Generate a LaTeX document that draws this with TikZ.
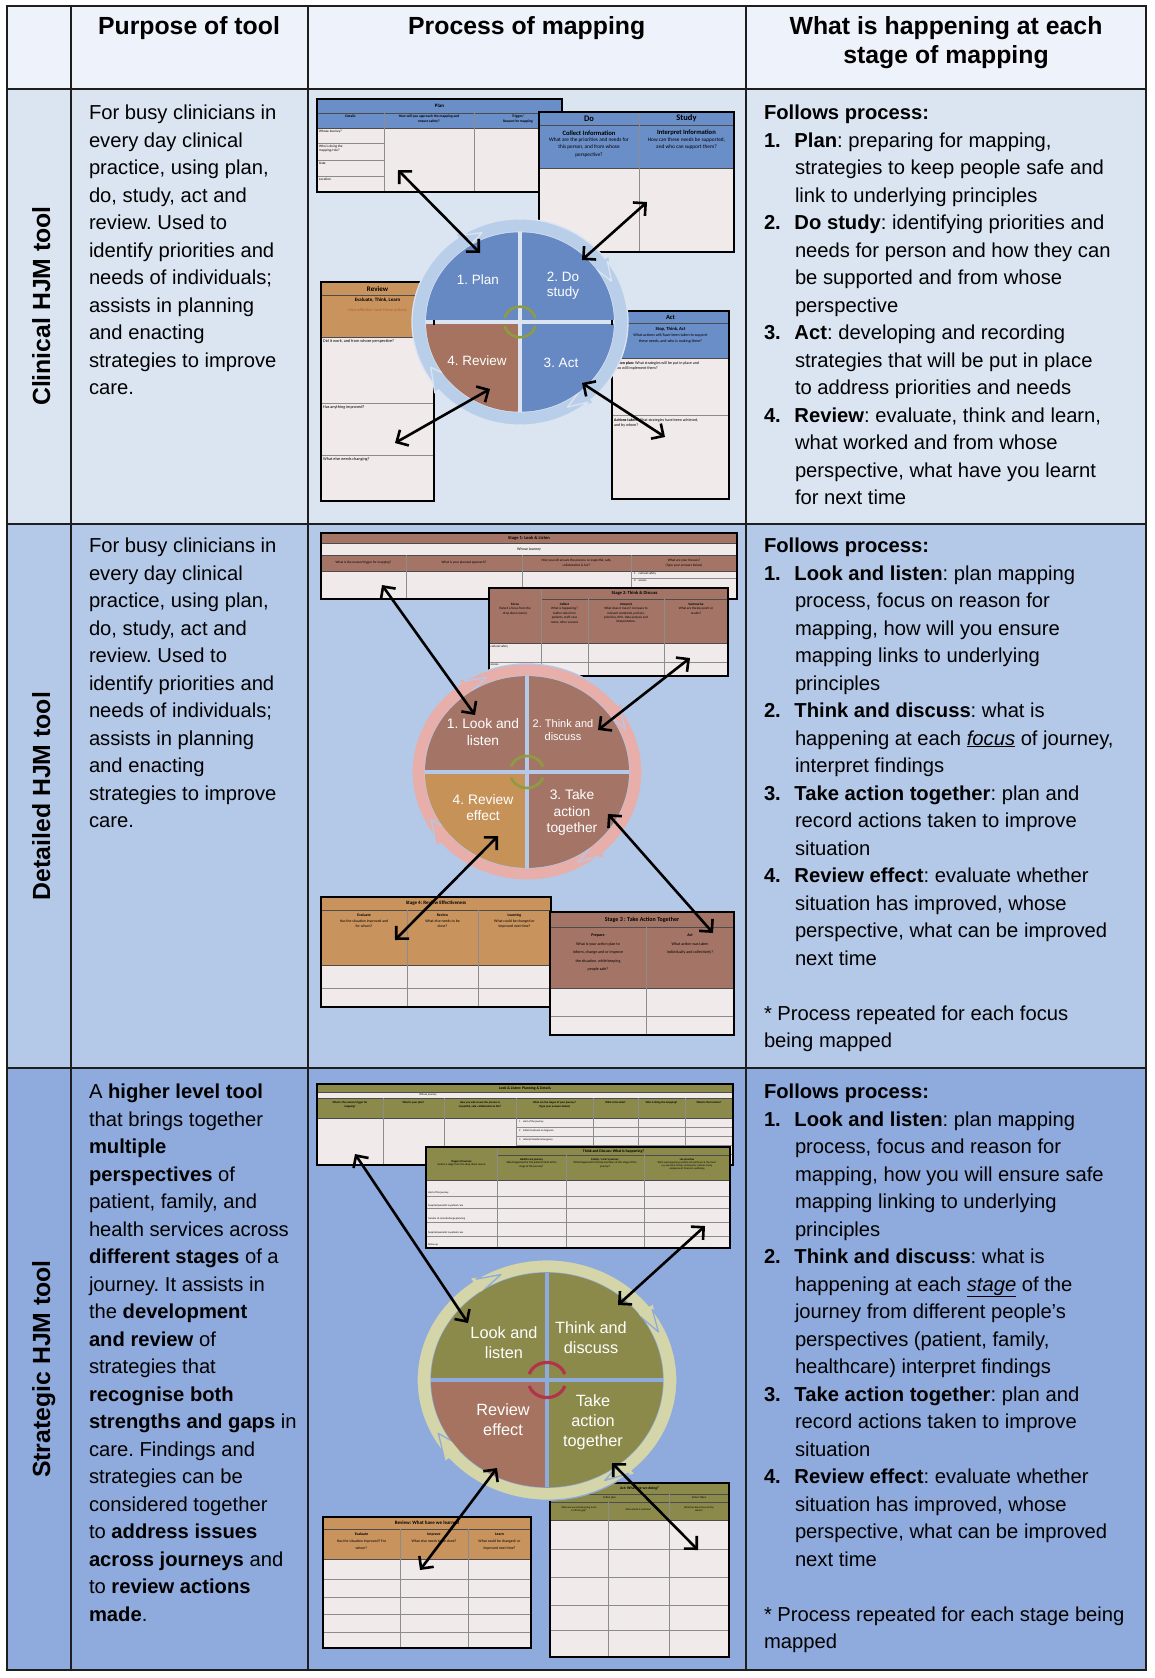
\documentclass[tikz,border=0pt]{standalone}
\usepackage{fontspec}
\setmainfont{Liberation Sans}
\newfontfamily\carl{Carlito}
\usetikzlibrary{arrows.meta}
\frenchspacing
\definecolor{hdrbg}{HTML}{EEF2FA}
\definecolor{rowA}{HTML}{DBE5F2}
\definecolor{rowB}{HTML}{B4C8E8}
\definecolor{rowC}{HTML}{8FAADC}
\definecolor{tblue}{HTML}{6A8EC7}
\definecolor{pblue}{HTML}{6689C3}
\definecolor{tlight}{HTML}{F0EAEA}
\definecolor{torange}{HTML}{C9935E}
\definecolor{tbrown}{HTML}{A47566}
\definecolor{tolive}{HTML}{8B8A4A}
\definecolor{ptan}{HTML}{C69258}
\definecolor{pbrown}{HTML}{A5735F}
\definecolor{ringA}{HTML}{B9CEE8}
\definecolor{ringB}{HTML}{E8AEA9}
\definecolor{ringC}{HTML}{D4D5A9}
\definecolor{arcA}{HTML}{8C9C3E}
\definecolor{arcC}{HTML}{B3344A}
\definecolor{gridc}{HTML}{8C8C8C}
\definecolor{linec}{HTML}{1E1E1E}
\definecolor{otext}{HTML}{B4612F}
\newcommand{\fz}[2]{\carl\fontsize{#1}{#2}\selectfont}
\newcounter{tn}
\newcommand{\mt}[3][]{\stepcounter{tn}\node[mtx,#1] (m\arabic{tn}) at (#2) {#3};}
\newcommand{\nm}[1]{\makebox[30.5pt][l]{\textbf{#1}}}
\newcommand{\ind}{\hspace*{31pt}}
\newcommand{\ringseg}[4]{%
  \pgfmathsetmacro\rsmid{(#3+#4)/2}%
  \pgfmathsetmacro\rsob{#4+5}%
  \pgfmathsetmacro\rsib{#3-5}%
  \pgfmathsetmacro\rsb{#2+13}%
  \pgfmathsetmacro\rsn{#1-11}%
  \path[ringsty] (#1:#4) arc[start angle=#1, end angle=\rsb, radius=#4] -- (\rsb:\rsob) -- (#2:\rsmid) -- (\rsb:\rsib) -- (\rsb:#3) arc[start angle=\rsb, end angle=#1, radius=#3] -- (\rsn:\rsmid) -- cycle;}
\newcommand{\wheel}[4]{%
  \tikzset{ringsty/.style={fill=#3, draw=#4, line width=1.3pt, line join=round}}%
  \ringseg{219}{112}{#1}{#2}%
  \ringseg{123}{25}{#1}{#2}%
  \ringseg{36}{-62}{#1}{#2}%
  \ringseg{-51}{-152}{#1}{#2}}
\newcommand{\pie}[5]{% radius, TR, TL, BL, BR
  \fill[#2] (0,0) -- (0:#1) arc[start angle=0,end angle=90,radius=#1] -- cycle;
  \fill[#3] (0,0) -- (90:#1) arc[start angle=90,end angle=180,radius=#1] -- cycle;
  \fill[#4] (0,0) -- (180:#1) arc[start angle=180,end angle=270,radius=#1] -- cycle;
  \fill[#5] (0,0) -- (270:#1) arc[start angle=270,end angle=360,radius=#1] -- cycle;}
\begin{document}
\begin{tikzpicture}[x=1pt,y=-1pt,
  body/.style={font=\fontsize{20.2}{27.5}\selectfont, align=left, inner sep=0pt, outer sep=0pt, anchor=north west},
  hdr/.style={font=\bfseries\fontsize{24.8}{29}\selectfont, align=center, inner sep=0pt, anchor=north},
  side/.style={font=\bfseries\fontsize{24.8}{27.5}\selectfont, rotate=90, anchor=base, inner sep=0pt},
  mtx/.style={font=\fz{4}{4.8}, align=center, inner sep=0pt},
  wl/.style={text=white, align=center, inner sep=0pt},
  tline/.style={draw=linec, line width=2pt},
  tborder/.style={draw=black, line width=2.2pt},
  dline/.style={draw=black!70, line width=0.7pt},
  gline/.style={draw=gridc, line width=0.6pt},
  dbl/.style={{Straight Barb[length=9pt,width=18pt]}-{Straight Barb[length=9pt,width=18pt]}, line width=2.6pt, black},
]
\useasboundingbox (0,0) rectangle (1155,1678);
\fill[white] (0,0) rectangle (1155,1678);
\fill[hdrbg] (7,6) rectangle (1146,89);
\fill[rowA] (7,89) rectangle (1146,524);
\fill[rowB] (7,524) rectangle (1146,1068);
\fill[rowC] (7,1068) rectangle (1146,1670);

% ================= ROW 1 tables
% Plan
\fill[tblue] (317,99) rectangle (562,128);
\fill[tlight] (317,128) rectangle (562,192);
\draw[dline] (317,113) -- (562,113) (317,128) -- (562,128);
\draw[gline] (384,113) -- (384,192) (474,113) -- (474,192);
\draw[gline] (317,143) -- (384,143) (317,160) -- (384,160) (317,176) -- (384,176);
\draw[tborder] (317,99) rectangle (562,192);
\mt[font=\fz{5}{6}\bfseries]{439.5,106}{Plan}
\mt[anchor=north, font=\fz{3.6}{4.3}\bfseries]{350.5,115}{Details}
\mt[anchor=north, font=\fz{3.6}{4.3}\bfseries]{429,115}{How will you approach the mapping and\\ensure safety?}
\mt[anchor=north, font=\fz{3.6}{4.3}\bfseries]{518,115}{Trigger/\\Reason for mapping}
\mt[anchor=north west, font=\fz{3.4}{4.1}, align=left]{319,130}{Whose Journey?}
\mt[anchor=north west, font=\fz{3.4}{4.1}, align=left]{319,145}{Who is doing the\\mapping/role?}
\mt[anchor=north west, font=\fz{3.4}{4.1}, align=left]{319,162}{Date}
\mt[anchor=north west, font=\fz{3.4}{4.1}, align=left]{319,178}{Location}
% Do / Study
\fill[tblue] (539,112) rectangle (734,168);
\fill[tlight] (539,168) rectangle (734,252);
\draw[dline] (539,125) -- (734,125) (539,168) -- (734,168);
\draw[gline] (639,112) -- (639,252);
\draw[tborder] (539,112) rectangle (734,252);
\mt[font=\fz{8.5}{9}\bfseries]{589,118.5}{Do}
\mt[font=\fz{8.5}{9}\bfseries]{686.5,118.5}{Study}
\mt[font=\fz{6.6}{7}\bfseries]{589,133}{Collect Information}
\mt[anchor=north, font=\fz{5.3}{7.6}]{589,137.5}{What are the priorities and needs for\\this person, and from whose\\perspective?}
\mt[font=\fz{6.6}{7}\bfseries]{686.5,133}{Interpret Information}
\mt[anchor=north, font=\fz{5.3}{7.6}]{686.5,137.5}{How can these needs be supported,\\and who can support them?}
% Review
\fill[torange] (321,282) rectangle (434,337);
\fill[tlight] (321,337) rectangle (434,501);
\draw[dline] (321,295) -- (434,295) (321,337) -- (434,337);
\draw[gline] (321,403) -- (434,403) (321,455) -- (434,455);
\draw[tborder] (321,282) rectangle (434,501);
\mt[font=\fz{7}{8}\bfseries]{377.5,289}{Review}
\mt[font=\fz{5}{6}\bfseries]{377.5,300.5}{Evaluate, Think, Learn}
\mt[font=\fz{4.4}{5}, text=otext]{377.5,310}{How affective have these actions}
\mt[anchor=north west, font=\fz{4.2}{5}, align=left]{323,339}{Did it work, and from whose perspective?}
\mt[anchor=north west, font=\fz{4.2}{5}, align=left]{323,405}{Has anything improved?}
\mt[anchor=north west, font=\fz{4.2}{5}, align=left]{323,457}{What else needs changing?}
% Act
\fill[tblue] (612,311) rectangle (729,358);
\fill[tlight] (612,358) rectangle (729,499);
\draw[dline] (612,323) -- (729,323) (612,358) -- (729,358);
\draw[gline] (612,415) -- (729,415);
\draw[tborder] (612,311) rectangle (729,499);
\mt[font=\fz{6.5}{7}\bfseries]{670.5,317}{Act}
\mt[font=\fz{4.6}{5}\bfseries]{670.5,329}{Stop, Think, Act}
\mt[anchor=north, font=\fz{4}{5.2}]{670.5,334}{What actions will/have been taken to support\\these needs, and who is making them?}
\mt[anchor=north west, font=\fz{4}{5.2}, align=left]{614,361}{\textbf{Action plan:} What strategies will be put in place and\\who will implement them?}
\mt[anchor=north west, font=\fz{4}{5.2}, align=left]{614,418}{\textbf{Actions taken:} What strategies have been achieved,\\and by whom?}

% wheel 1
\begin{scope}[shift={(520,322)}, yscale=-0.955]
  \wheel{94}{108}{ringA}{rowA}
  \pie{94}{pblue}{pblue}{pbrown}{pblue}
  \draw[rowA, line width=4pt] (-94,0) -- (94,0) (0,-94) -- (0,94);
  \draw[arcA, line width=2.6pt] (165:16) arc[start angle=165,end angle=15,radius=16];
  \draw[arcA, line width=2.6pt] (-15:16) arc[start angle=-15,end angle=-165,radius=16];
\end{scope}
\draw[black, line width=2pt] (434,320) -- (434,325) (612,320) -- (612,325);
\node[wl, font=\fontsize{13.5}{15.5}\selectfont] (w1a) at (478,280) {1. Plan};
\node[wl, font=\fontsize{13.5}{15.5}\selectfont] (w1b) at (563,285.5) {2. Do\\study};
\node[wl, font=\fontsize{13.5}{15.5}\selectfont] (w1c) at (477,361) {4. Review};
\node[wl, font=\fontsize{13.5}{15.5}\selectfont] (w1d) at (561,363) {3. Act};
\coordinate (a1s) at (398,170); \coordinate (a1e) at (480,253);
\coordinate (a2s) at (647,202); \coordinate (a2e) at (582,260);
\coordinate (a3s) at (490,389); \coordinate (a3e) at (395,443);
\coordinate (a4s) at (582,383); \coordinate (a4e) at (665,437);
\draw[dbl] (a1s) -- (a1e);
\draw[dbl] (a2s) -- (a2e);
\draw[dbl] (a3s) -- (a3e);
\draw[dbl] (a4s) -- (a4e);

% ================= ROW 2 tables
% Stage 1
\fill[tbrown] (321,533) rectangle (737,543);
\fill[tlight] (321,543) rectangle (737,555);
\fill[tbrown] (321,555) rectangle (737,571);
\fill[tlight] (321,571) rectangle (737,599);
\draw[dline] (321,543) -- (737,543) (321,555) -- (737,555) (321,571) -- (737,571);
\draw[gline] (406,555) -- (406,599) (522,555) -- (522,599) (631,555) -- (631,599);
\draw[gline] (631,578) -- (737,578);
\draw[tborder] (321,533) rectangle (737,599);
\mt[font=\fz{4.6}{5}\bfseries]{529,538}{Stage 1: Look \& Listen}
\mt[font=\fz{3.8}{4.4}]{529,549}{Whose Journey}
\mt[font=\fz{3.4}{4.6}]{363.5,563}{What is the reason/trigger for mapping?}
\mt[font=\fz{3.4}{4.6}]{464,563}{What is your planned approach?}
\mt[font=\fz{3.4}{4.6}]{576.5,563}{How you will ensure the process is respectful, safe,\\collaborative \& fair?}
\mt[font=\fz{3.4}{4.6}]{684,563}{What are your focuses?\\(Type your answers below)}
\mt[anchor=north west, font=\fz{3}{3.6}, align=left]{634,572.5}{1\quad cultural safety}
\mt[anchor=north west, font=\fz{3}{3.6}, align=left]{634,579}{2\quad access}
% Stage 2
\fill[tbrown] (489,588) rectangle (728,643);
\fill[tlight] (489,643) rectangle (728,676);
\draw[dline] (541,599) -- (728,599) (489,643) -- (728,643);
\draw[gline] (541,588) -- (541,676) (588,599) -- (588,676) (664,599) -- (664,676);
\draw[gline] (489,662) -- (728,662);
\draw[tborder] (489,588) rectangle (728,676);
\mt[font=\fz{4.6}{5}\bfseries]{634.5,593.5}{Stage 2: Think \& Discuss}
\mt[anchor=north, font=\fz{3.3}{4.4}]{515,603}{\textbf{Focus}\\(Select a focus from the\\drop down menu)}
\mt[anchor=north, font=\fz{3.3}{4.4}]{564.5,603}{\textbf{Collect}\\What is happening?\\Gather data from\\patients, staff, case\\notes, other sources}
\mt[anchor=north, font=\fz{3.3}{4.4}]{626,603}{\textbf{Interpret}\\What does it mean? Compare to\\relevant standards, policies,\\priorities, KPIs.  Data analysis and\\interpretation.}
\mt[anchor=north, font=\fz{3.3}{4.4}]{696,603}{\textbf{Summarise}\\What are the key point or\\results?}
\mt[anchor=north west, font=\fz{3}{3.6}, align=left]{490.5,645}{cultural safety}
\mt[anchor=north west, font=\fz{3}{3.6}, align=left]{490.5,664}{access}
% Stage 4
\fill[torange] (321,897) rectangle (551,965);
\fill[tlight] (321,965) rectangle (551,1007);
\draw[dline] (321,910) -- (551,910) (321,965) -- (551,965);
\draw[gline] (407,910) -- (407,1007) (478,910) -- (478,1007) (321,988) -- (551,988);
\draw[tborder] (321,897) rectangle (551,1007);
\mt[font=\fz{5}{6}\bfseries]{436,903.5}{Stage 4: Review Effectiveness}
\mt[anchor=north, font=\fz{3.8}{5.2}]{364,914}{\textbf{Evaluate}\\Has the situation improved and\\for whom?}
\mt[anchor=north, font=\fz{3.8}{5.2}]{442.5,914}{\textbf{Review}\\What else needs to be\\done?}
\mt[anchor=north, font=\fz{3.8}{5.2}]{514.5,914}{\textbf{Learning}\\What could be changed or\\improved next time?}
% Stage 3
\fill[tbrown] (550,912) rectangle (734,988);
\fill[tlight] (550,988) rectangle (734,1035);
\draw[dline] (550,927) -- (734,927) (550,988) -- (734,988);
\draw[gline] (646,927) -- (646,1035) (550,1016) -- (734,1016);
\draw[tborder] (550,912) rectangle (734,1035);
\mt[font=\fz{6}{7}\bfseries]{642,919.5}{Stage 3 : Take Action Together}
\mt[anchor=north, font=\fz{4}{8.5}]{598,934}{\textbf{Prepare}\\What is your action plan to\\inform, change and or improve\\the situation, while keeping\\people safe?}
\mt[anchor=north, font=\fz{4}{8.5}]{690,934}{\textbf{Act}\\What action was taken\\individually and collectively?}

% wheel 2
\begin{scope}[shift={(527,772)}, yscale=-0.94]
  \wheel{102}{115}{ringB}{rowB}
  \pie{102}{tbrown}{tbrown}{ptan}{tbrown}
  \draw[rowB, line width=4pt] (-102,0) -- (102,0) (0,-102) -- (0,102);
  \draw[arcA, line width=2.6pt] (160:17) arc[start angle=160,end angle=20,radius=17];
  \draw[arcA, line width=2.6pt] (-20:17) arc[start angle=-20,end angle=-160,radius=17];
\end{scope}
\node[wl, font=\fontsize{13.8}{17}\selectfont] (w2a) at (483,732.5) {1. Look and\\listen};
\node[wl, font=\fontsize{11}{13}\selectfont] (w2b) at (563,730.5) {2. Think and\\discuss};
\node[wl, font=\fontsize{13.8}{16}\selectfont] (w2c) at (483,808) {4. Review\\effect};
\node[wl, font=\fontsize{13.8}{16.5}\selectfont] (w2d) at (572,812.5) {3. Take\\action\\together};
\coordinate (b1s) at (382,585); \coordinate (b1e) at (475,715);
\coordinate (b2s) at (690,658); \coordinate (b2e) at (598,730);
\coordinate (b3s) at (498,836); \coordinate (b3e) at (395,940);
\coordinate (b4s) at (608,814); \coordinate (b4e) at (713,933);
\draw[dbl] (b1s) -- (b1e);
\draw[dbl] (b2s) -- (b2e);
\draw[dbl] (b3s) -- (b3e);
\draw[dbl] (b4s) -- (b4e);

% ================= ROW 3 tables
% Look & Listen
\fill[tolive] (317,1084) rectangle (733,1092);
\fill[tlight] (317,1092) rectangle (733,1098);
\fill[tolive] (317,1098) rectangle (733,1118);
\fill[tlight] (317,1118) rectangle (733,1165);
\draw[dline] (317,1092) -- (733,1092) (317,1098) -- (733,1098) (317,1118) -- (733,1118);
\draw[gline] (383,1098) -- (383,1165) (444,1098) -- (444,1165) (516,1098) -- (516,1165) (593,1098) -- (593,1165) (638,1098) -- (638,1165) (685,1098) -- (685,1165);
\draw[gline] (516,1127) -- (733,1127) (516,1136) -- (733,1136) (516,1145) -- (733,1145) (516,1154) -- (733,1154);
\draw[tborder] (317,1084) rectangle (733,1165);
\mt[font=\fz{3.8}{4.2}\bfseries]{525,1088}{Look \& Listen: Planning \& Details}
\mt[font=\fz{2.8}{3.2}]{428,1095}{Whose journey}
\mt[anchor=north, font=\fz{2.8}{3.5}\bfseries]{350,1101.5}{What is the reason/trigger for\\mapping?}
\mt[anchor=north, font=\fz{2.8}{3.5}\bfseries]{413.5,1101.5}{What is your plan?}
\mt[anchor=north, font=\fz{2.8}{3.5}\bfseries]{480,1101.5}{How you will ensure the process is\\respectful, safe, collaborative \& fair?}
\mt[anchor=north, font=\fz{2.8}{3.5}\bfseries]{554.5,1101.5}{What are the stages of your journey?\\(Type your answers below)}
\mt[anchor=north, font=\fz{2.8}{3.5}\bfseries]{615.5,1101.5}{What is the date?}
\mt[anchor=north, font=\fz{2.8}{3.5}\bfseries]{661.5,1101.5}{Who is doing the mapping?}
\mt[anchor=north, font=\fz{2.8}{3.5}\bfseries]{709,1101.5}{What is the location?}
\mt[anchor=north west, font=\fz{2.6}{3}, align=left]{519,1120.5}{1\quad start of the journey}
\mt[anchor=north west, font=\fz{2.6}{3}, align=left]{519,1129.5}{2\quad initial treatment or diagnosis}
\mt[anchor=north west, font=\fz{2.6}{3}, align=left]{519,1138.5}{3\quad referral/transfer/emergency}
% Think and Discuss
\fill[tolive] (426,1147) rectangle (730,1180);
\fill[tlight] (426,1180) rectangle (730,1248);
\draw[dline] (497,1155) -- (730,1155) (426,1180) -- (730,1180);
\draw[gline] (497,1147) -- (497,1248) (566,1155) -- (566,1248) (644,1155) -- (644,1248);
\draw[gline] (426,1196) -- (730,1196) (426,1208) -- (730,1208) (426,1222) -- (730,1222) (426,1236) -- (730,1236);
\draw[tborder] (426,1147) rectangle (730,1248);
\mt[font=\fz{3.8}{4.2}\bfseries]{613.5,1151}{Think and Discuss: What is happening?}
\mt[anchor=north, font=\fz{2.8}{3.5}]{461.5,1160}{\textbf{Stages of Journey}\\(Select a stage from the drop down menu)}
\mt[anchor=north, font=\fz{2.8}{3.5}]{531.5,1158}{\textbf{Health care journey}\\What happened for the patient/client at the\\stage of the journey?}
\mt[anchor=north, font=\fz{2.8}{3.5}]{605,1158}{\textbf{Family / carer's journey}\\What happened for family members at this stage of the\\journey?}
\mt[anchor=north, font=\fz{2.6}{3.3}]{687,1158}{\textbf{Life priorities}\\What was happening outside of healthcare at the time?\\e.g. personal, family, community, cultural, study,\\employment, financial, wellbeing}
\mt[anchor=west, font=\fz{2.6}{3}]{428,1193}{start of the journey}
\mt[anchor=west, font=\fz{2.6}{3}]{428,1205.5}{hospital/specialist in-patient care}
\mt[anchor=west, font=\fz{2.6}{3}]{428,1219}{transfer of care/discharge planning}
\mt[anchor=west, font=\fz{2.6}{3}]{428,1232.5}{hospital/specialist in-patient care}
\mt[anchor=west, font=\fz{2.6}{3}]{428,1245}{follow up}
% Review (row 3)
\fill[torange] (323,1517) rectangle (531,1559);
\fill[tlight] (323,1559) rectangle (531,1648);
\draw[dline] (323,1529) -- (531,1529) (323,1559) -- (531,1559);
\draw[gline] (400,1529) -- (400,1648) (468,1529) -- (468,1648);
\draw[gline] (323,1579) -- (531,1579) (323,1597) -- (531,1597) (323,1614) -- (531,1614) (323,1632) -- (531,1632);
\draw[tborder] (323,1517) rectangle (531,1648);
\mt[font=\fz{5}{6}\bfseries]{427,1523}{Review: What have we learned}
\mt[anchor=north, font=\fz{3.8}{7}]{361.5,1533}{\textbf{Evaluate}\\Has the situation improved? For\\whom?}
\mt[anchor=north, font=\fz{3.8}{7}]{434,1533}{\textbf{Improve}\\What else needs to be done?}
\mt[anchor=north, font=\fz{3.8}{7}]{499.5,1533}{\textbf{Learn}\\What could be changed/ or\\improved next time?}
% Act (row 3)
\fill[tolive] (550,1483) rectangle (729,1520);
\fill[tlight] (550,1520) rectangle (729,1657);
\draw[dline] (550,1494) -- (729,1494) (550,1502) -- (729,1502) (550,1520) -- (729,1520);
\draw[gline] (669,1494) -- (669,1657) (608,1502) -- (608,1657);
\draw[gline] (550,1549) -- (729,1549) (550,1577) -- (729,1577) (550,1605) -- (729,1605) (550,1630) -- (729,1630);
\draw[tborder] (550,1483) rectangle (729,1657);
\mt[font=\fz{3.8}{4.2}\bfseries]{639.5,1488.5}{Act: What are we doing?}
\mt[font=\fz{2.8}{3.2}]{609.5,1498}{Action plan}
\mt[font=\fz{2.8}{3.2}]{699,1498}{Action Taken}
\mt[anchor=north, font=\fz{2.6}{3.2}]{579,1506}{What are we actually going to do\\to fill the gap?}
\mt[anchor=north, font=\fz{2.6}{3.2}]{638.5,1508}{Who will do it and how?}
\mt[anchor=north, font=\fz{2.6}{3.2}]{699,1506}{What has been done and by\\whom?}

% wheel 3
\begin{scope}[shift={(547,1380)}, yscale=-0.925]
  \wheel{116}{130}{ringC}{rowC}
  \pie{116}{tolive}{tolive}{pbrown}{tolive}
  \draw[rowC, line width=4pt] (-116,0) -- (116,0) (0,-116) -- (0,116);
  \draw[arcC, line width=3.2pt] (160:19) arc[start angle=160,end angle=20,radius=19];
  \draw[arcC, line width=3.2pt] (-20:19) arc[start angle=-20,end angle=-160,radius=19];
\end{scope}
\node[wl, font=\fontsize{16.3}{20}\selectfont] (w3a) at (504,1343) {Look and\\listen};
\node[wl, font=\fontsize{16.3}{20}\selectfont] (w3b) at (591,1337.5) {Think and\\discuss};
\node[wl, font=\fontsize{16.3}{20}\selectfont] (w3c) at (503,1420) {Review\\effect};
\node[wl, font=\fontsize{16.3}{20}\selectfont] (w3d) at (593,1422) {Take\\action\\together};
\coordinate (c1s) at (355,1154); \coordinate (c1e) at (468,1323);
\coordinate (c2s) at (705,1226); \coordinate (c2e) at (618,1305);
\coordinate (c3s) at (497,1468); \coordinate (c3e) at (420,1570);
\coordinate (c4s) at (612,1463); \coordinate (c4e) at (698,1550);
\draw[dbl] (c1s) -- (c1e);
\draw[dbl] (c2s) -- (c2e);
\draw[dbl] (c3s) -- (c3e);
\draw[dbl] (c4s) -- (c4e);

% ================= table grid
\draw[tline] (7,6) rectangle (1146,1670);
\draw[tline] (71,6) -- (71,1670) (307.5,6) -- (307.5,1670) (746,6) -- (746,1670);
\draw[tline] (7,89) -- (1146,89) (7,524) -- (1146,524) (7,1068) -- (1146,1068);

% ================= headers
\node[hdr] (h1) at (189,10) {\rule{0pt}{24pt}Purpose of tool};
\node[hdr] (h2) at (526.7,10) {\rule{0pt}{24pt}Process of mapping};
\node[hdr] (h3) at (946,10) {\rule{0pt}{24pt}What is happening at each\\stage of mapping};
\node[side] (s1) at (50,306) {Clinical HJM tool};
\node[side] (s2) at (50,796) {Detailed HJM tool};
\node[side] (s3) at (50,1369) {Strategic HJM tool};

% ================= purpose texts
\node[body] (p1) at (89,99.5) {\rule{0pt}{20pt}For busy clinicians in\\every day clinical\\practice, using plan,\\do, study, act and\\review. Used to\\identify priorities and\\needs of individuals;\\assists in planning\\and enacting\\strategies to improve\\care.};
\node[body] (p2) at (89,532.5) {\rule{0pt}{20pt}For busy clinicians in\\every day clinical\\practice, using plan,\\do, study, act and\\review. Used to\\identify priorities and\\needs of individuals;\\assists in planning\\and enacting\\strategies to improve\\care.};
\node[body] (p3) at (89,1078.5) {\rule{0pt}{20pt}A \textbf{higher level tool}\\that brings together\\\textbf{multiple}\\\textbf{perspectives} of\\patient, family, and\\health services across\\\textbf{different stages} of a\\journey. It assists in\\the \textbf{development}\\\textbf{and review} of\\strategies that\\\textbf{recognise both}\\\textbf{strengths and gaps} in\\care. Findings and\\strategies can be\\considered together\\to \textbf{address issues}\\\textbf{across journeys} and\\to \textbf{review actions}\\\textbf{made}.};

% ================= process texts
\node[body] (q1) at (764,99.5) {\rule{0pt}{20pt}\textbf{Follows process:}\\
\nm{1.}\textbf{Plan}: preparing for mapping,\\
\ind strategies to keep people safe and\\
\ind link to underlying principles\\
\nm{2.}\textbf{Do study}: identifying priorities and\\
\ind needs for person and how they can\\
\ind be supported and from whose\\
\ind perspective\\
\nm{3.}\textbf{Act}: developing and recording\\
\ind strategies that will be put in place\\
\ind to address priorities and needs\\
\nm{4.}\textbf{Review}: evaluate, think and learn,\\
\ind what worked and from whose\\
\ind perspective, what have you learnt\\
\ind for next time};
\node[body] (q2) at (764,532.5) {\rule{0pt}{20pt}\textbf{Follows process:}\\
\nm{1.}\textbf{Look and listen}: plan mapping\\
\ind process, focus on reason for\\
\ind mapping, how will you ensure\\
\ind mapping links to underlying\\
\ind principles\\
\nm{2.}\textbf{Think and discuss}: what is\\
\ind happening at each \underline{\textit{focus}} of journey,\\
\ind interpret findings\\
\nm{3.}\textbf{Take action together}: plan and\\
\ind record actions taken to improve\\
\ind situation\\
\nm{4.}\textbf{Review effect}: evaluate whether\\
\ind situation has improved, whose\\
\ind perspective, what can be improved\\
\ind next time\\
\mbox{}\\
* Process repeated for each focus\\
being mapped};
\node[body] (q3) at (764,1078.5) {\rule{0pt}{20pt}\textbf{Follows process:}\\
\nm{1.}\textbf{Look and listen}: plan mapping\\
\ind process, focus and reason for\\
\ind mapping, how you will ensure safe\\
\ind mapping linking to underlying\\
\ind principles\\
\nm{2.}\textbf{Think and discuss}: what is\\
\ind happening at each \underline{\textit{stage}} of the\\
\ind journey from different people's\\
\ind perspectives (patient, family,\\
\ind healthcare) interpret findings\\
\nm{3.}\textbf{Take action together}: plan and\\
\ind record actions taken to improve\\
\ind situation\\
\nm{4.}\textbf{Review effect}: evaluate whether\\
\ind situation has improved, whose\\
\ind perspective, what can be improved\\
\ind next time\\
\mbox{}\\
* Process repeated for each stage being\\
mapped};
\end{tikzpicture}
\end{document}
